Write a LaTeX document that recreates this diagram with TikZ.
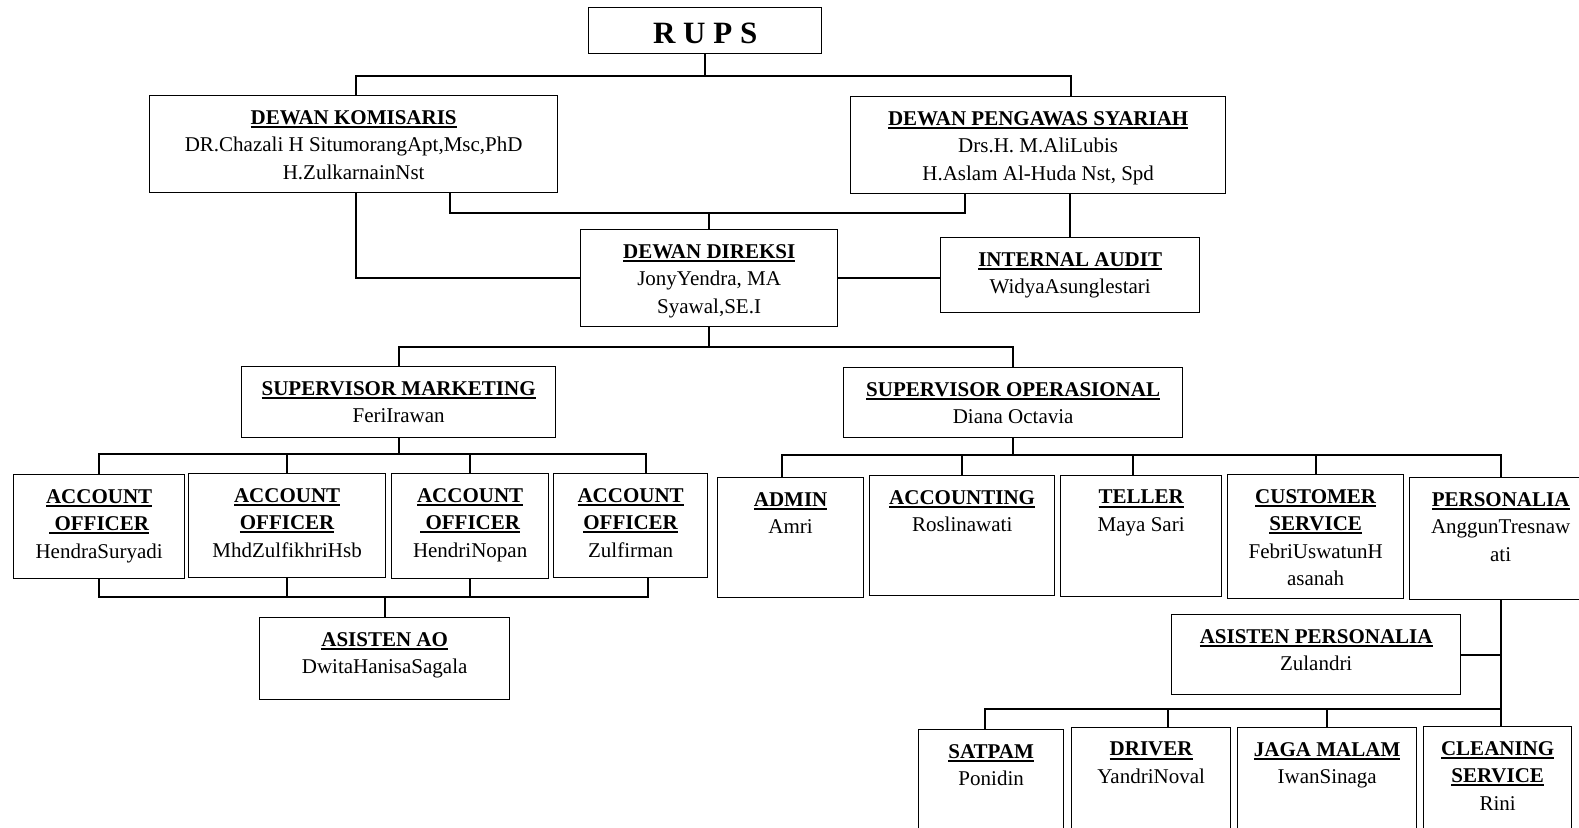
\documentclass[tikz,border=0pt]{standalone}
\usepackage{fontspec}
\setmainfont{Liberation Serif}
\newlength\ulw
\newcommand\ttl[1]{\settowidth\ulw{\bfseries #1}{\bfseries #1}\hspace{-\ulw}\rule[-3.6pt]{\ulw}{2pt}}
\newcommand\bx[5]{\node[box, minimum width=#4pt, minimum height=#5pt] (#1) at (#2,#3) {};}
\newcommand\tx[2]{\node[txt] (#1-t) at ([yshift=-15pt]#1.north) {#2};}
\tikzset{
  box/.style={draw, line width=1.3pt, inner sep=0pt, anchor=north west},
  txt/.style={anchor=north, inner sep=0pt, align=center, font=\fontsize{21}{27.5}\selectfont},
  ln/.style={line width=2pt}
}
\begin{document}
\begin{tikzpicture}[x=1pt,y=-1pt]
\useasboundingbox[fill=white] (0,0) rectangle (1579,827);
% boxes
\bx{rups}{588}{7}{233}{46}
\bx{dk}{149}{95}{408}{97}
\bx{dps}{850}{96}{375}{97}
\bx{dd}{580}{229}{257}{97}
\bx{ia}{940}{237}{259}{75}
\bx{sm}{241}{366}{314}{71}
\bx{so}{843}{367}{339}{70}
\bx{ao1}{13}{474}{171}{104}
\bx{ao2}{188}{473}{197}{104}
\bx{ao3}{391}{473}{157}{105}
\bx{ao4}{553}{473}{154}{104}
\bx{aao}{259}{617}{250}{82}
\bx{admin}{717}{477}{146}{120}
\bx{acct}{869}{475}{185}{120}
\bx{teller}{1060}{475}{161}{121}
\bx{cs}{1227}{474}{176}{124}
\bx{pers}{1409}{477}{182}{122}
\bx{ap}{1171}{614}{289}{80}
\bx{satpam}{918}{729}{145}{130}
\bx{driver}{1071}{727}{159}{130}
\bx{jaga}{1237}{727}{179}{130}
\bx{clean}{1423}{726}{148}{130}
% texts
\node[anchor=north, inner sep=0pt, font=\fontsize{31}{36}\selectfont\bfseries] (rups-t) at ([yshift=-15.5pt]rups.north) {R U P S};
\tx{dk}{\ttl{DEWAN KOMISARIS}\\DR.Chazali H SitumorangApt,Msc,PhD\\H.ZulkarnainNst}
\tx{dps}{\ttl{DEWAN PENGAWAS SYARIAH}\\Drs.H. M.AliLubis\\H.Aslam Al-Huda Nst, Spd}
\tx{dd}{\ttl{DEWAN DIREKSI}\\JonyYendra, MA\\Syawal,SE.I}
\tx{ia}{\ttl{INTERNAL AUDIT}\\WidyaAsunglestari}
\tx{sm}{\ttl{SUPERVISOR MARKETING}\\FeriIrawan}
\tx{so}{\ttl{SUPERVISOR OPERASIONAL}\\Diana Octavia}
\tx{ao1}{\ttl{ACCOUNT}\\\ttl{~OFFICER}\\HendraSuryadi}
\tx{ao2}{\ttl{ACCOUNT}\\\ttl{OFFICER}\\MhdZulfikhriHsb}
\tx{ao3}{\ttl{ACCOUNT}\\\ttl{~OFFICER}\\HendriNopan}
\tx{ao4}{\ttl{ACCOUNT}\\\ttl{OFFICER}\\Zulfirman}
\tx{aao}{\ttl{ASISTEN AO}\\DwitaHanisaSagala}
\tx{admin}{\ttl{ADMIN}\\Amri}
\tx{acct}{\ttl{ACCOUNTING}\\Roslinawati}
\tx{teller}{\ttl{TELLER}\\Maya Sari}
\tx{cs}{\ttl{CUSTOMER}\\\ttl{SERVICE}\\FebriUswatunH\\asanah}
\tx{pers}{\ttl{PERSONALIA}\\AnggunTresnaw\\ati}
\tx{ap}{\ttl{ASISTEN PERSONALIA}\\Zulandri}
\tx{satpam}{\ttl{SATPAM}\\Ponidin}
\tx{driver}{\ttl{DRIVER}\\YandriNoval}
\tx{jaga}{\ttl{JAGA MALAM}\\IwanSinaga}
\tx{clean}{\ttl{CLEANING}\\\ttl{SERVICE}\\Rini}
% junction coordinates
\coordinate (t1) at (356,76);
\coordinate (t2) at (1071,76);
\coordinate (b1) at (449.5,213);
\coordinate (b2) at (965,213);
\coordinate (m1) at (399,347);
\coordinate (a4) at (646,454);
\coordinate (c4) at (648,597);
\coordinate (s1) at (782,455);
\coordinate (s3) at (1133,455);
\coordinate (k1) at (985,709);
\coordinate (k2) at (1168,709);
% connectors
\draw[ln] (rups.south) -- (rups.south |- t1);
\draw[ln] (dk.north -| t1) -- (t1) -- (t2) -- (dps.north -| t2);
\draw[ln] (dk.south -| b1) -- (b1) -- (b2) -- (dps.south -| b2);
\draw[ln] (dd.north) -- (dd.north |- b1);
\draw[ln] (dk.south -| t1) |- (dd.west);
\draw[ln] (dd.east) -- (dd.east -| ia.west);
\draw[ln] (dps.south -| ia.north) -- (ia.north);
\draw[ln] (dd.south) -- (dd.south |- m1);
\draw[ln] (sm.north) -- (sm.north |- m1) -- (so.north |- m1) -- (so.north);
\draw[ln] (sm.south) -- (sm.south |- a4);
\draw[ln] (ao1.north) -- (ao1.north |- a4) -- (a4) -- (ao4.north -| a4);
\draw[ln] (ao2.north) -- (ao2.north |- a4);
\draw[ln] (ao3.north) -- (ao3.north |- a4);
\draw[ln] (ao1.south) -- (ao1.south |- c4) -- (c4) -- (ao4.south -| c4);
\draw[ln] (ao2.south) -- (ao2.south |- c4);
\draw[ln] (ao3.south) -- (ao3.south |- c4);
\draw[ln] (aao.north) -- (aao.north |- c4);
\draw[ln] (so.south) -- (so.south |- s1);
\draw[ln] (admin.north -| s1) -- (s1) -- (pers.north |- s1) -- (pers.north);
\draw[ln] (acct.north) -- (acct.north |- s1);
\draw[ln] (teller.north -| s3) -- (s3);
\draw[ln] (cs.north) -- (cs.north |- s1);
\draw[ln] (pers.south) -- (pers.south |- clean.north);
\draw[ln] (ap.east) -- (ap.east -| pers.south);
\draw[ln] (satpam.north -| k1) -- (k1) -- (pers.south |- k1);
\draw[ln] (driver.north -| k2) -- (k2);
\draw[ln] (jaga.north) -- (jaga.north |- k1);
\end{tikzpicture}
\end{document}
